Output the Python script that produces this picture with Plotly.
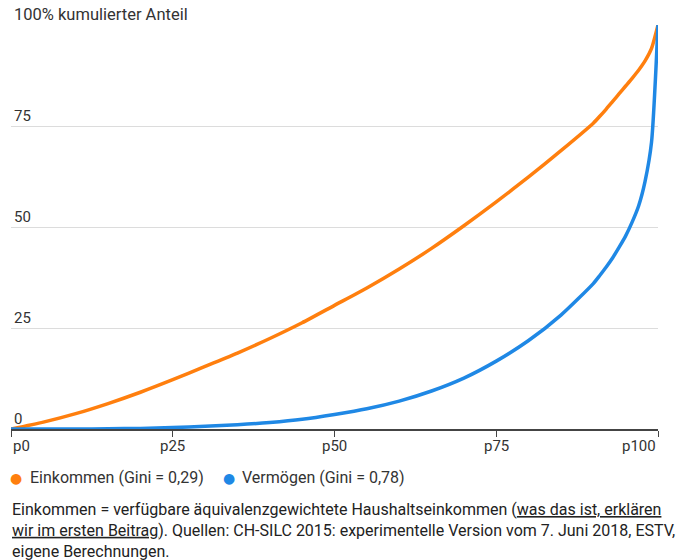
import plotly.graph_objects as go

# Percentiles of households (x) and cumulative share in % (y)
pct_income = [0, 5, 10, 15, 20, 25, 30, 35, 40, 45, 50, 55, 60, 65, 70, 75, 80, 85, 90,
              91, 92, 93, 94, 95, 96, 97, 98, 99, 100]
share_income = [0, 1.7, 3.8, 6.3, 9.1, 12.2, 15.5, 18.8, 22.4, 26.3, 30.6, 34.9, 39.6, 44.7, 50.3, 56.2, 62.4, 68.9, 75.7,
                77.4, 79.2, 81.1, 83.0, 84.9, 86.8, 88.8, 91.1, 94.2, 100]

pct_wealth = [0, 5, 10, 15, 20, 25, 30, 35, 40, 45, 50, 55, 60, 65, 70, 75, 80, 85, 90,
              91, 92, 93, 94, 95, 96, 97, 98, 99, 100]
share_wealth = [0, 0, 0, 0.05, 0.15, 0.35, 0.65, 1.05, 1.6, 2.4, 3.6, 5.0, 6.9, 9.4, 12.6, 16.8, 21.9, 28.2, 36.0,
                38.0, 40.1, 42.4, 45.0, 47.8, 51.2, 55.2, 61.3, 71.0, 100]

series_names = ["Einkommen (Gini = 0,29)", "Vermögen (Gini = 0,78)"]
series_colors = ["#ff7f0e", "#1f88e5"]

x_tickvals = [0, 25, 50, 75, 100]
x_ticktext = ["p0", "p25", "p50", "p75", "p100"]
y_tickvals = [0, 25, 50, 75, 100]
y_ticktext = ["0", "25", "50", "75",
              "<span style='font-size:16.5px'>100% kumulierter Anteil</span>"]

footnote = ("Einkommen = verfügbare äquivalenzgewichtete Haushaltseinkommen (<u>was das ist, erklären</u><br>"
            "<u>wir im ersten Beitrag</u>). Quellen: CH-SILC 2015: experimentelle Version vom 7. Juni 2018, ESTV,<br>"
            "eigene Berechnungen.")

FONT = "Roboto, Arial, sans-serif"
TXT = "#333333"

W, H = 681, 560
ML, MR, MT, MB = 11, 23, 25, 131
PW = W - ML - MR
PH = H - MT - MB

fig = go.Figure()
for xs, ys, name, col in [(pct_income, share_income, series_names[0], series_colors[0]),
                          (pct_wealth, share_wealth, series_names[1], series_colors[1])]:
    fig.add_trace(go.Scatter(x=xs, y=ys, mode="lines", name=name,
                             line=dict(color=col, width=3.5, shape="spline", smoothing=0.6),
                             showlegend=False, hoverinfo="skip"))

# x tick labels (edge ones aligned to plot edges)
for v, t in zip(x_tickvals, x_ticktext):
    anchor = "left" if v == x_tickvals[0] else ("right" if v == x_tickvals[-1] else "center")
    fig.add_annotation(x=v, y=0, xref="x", yref="paper", yanchor="top", xanchor=anchor,
                       yshift=-6, text=t, showarrow=False,
                       font=dict(family=FONT, size=15, color=TXT))

# legend row (dot + label per series)
legend_dot_px = [16, 229]
legend_text_px = [28, 240]
legend_y = (MT + PH - 478) / PH
for name, col, dx, tx in zip(series_names, series_colors, legend_dot_px, legend_text_px):
    fig.add_annotation(x=(dx - ML) / PW, y=legend_y, xref="paper", yref="paper",
                       xanchor="center", yanchor="middle", text="●", showarrow=False,
                       font=dict(family="DejaVu Sans", size=14, color=col))
    fig.add_annotation(x=(tx - ML) / PW, y=legend_y, xref="paper", yref="paper",
                       xanchor="left", yanchor="middle", text=name, showarrow=False,
                       font=dict(family=FONT, size=16, color=TXT))

fig.add_annotation(x=0, y=0, xref="paper", yref="paper", xanchor="left", yanchor="top",
                   yshift=-69, xshift=-1, align="left", text=footnote, showarrow=False,
                   font=dict(family=FONT, size=16, color="#222222"))

fig.update_layout(
    width=W, height=H,
    margin=dict(l=ML, r=MR, t=MT, b=MB, autoexpand=False),
    paper_bgcolor="white", plot_bgcolor="white",
    font=dict(family=FONT, size=15, color=TXT),
    showlegend=False,
    xaxis=dict(range=[0, 100], tickvals=x_tickvals, showticklabels=False,
               ticks="outside", ticklen=6, tickcolor="#444", tickwidth=1,
               showline=True, linecolor="#444", linewidth=2,
               showgrid=False, zeroline=False, fixedrange=True, automargin=False),
    yaxis=dict(range=[0, 100], tickvals=y_tickvals, ticktext=y_ticktext,
               ticklabelposition="inside top", ticklabeloverflow="allow", ticklabelshift=0,
               ticks="", showgrid=True, gridcolor="#dcdcdc", gridwidth=1,
               showline=False, zeroline=False, fixedrange=True, automargin=False,
               tickfont=dict(family=FONT, size=15, color=TXT)),
)

fig.write_html("out.html", config={"displayModeBar": False},
               post_script="document.body.style.margin='0';document.body.style.padding='0';")
